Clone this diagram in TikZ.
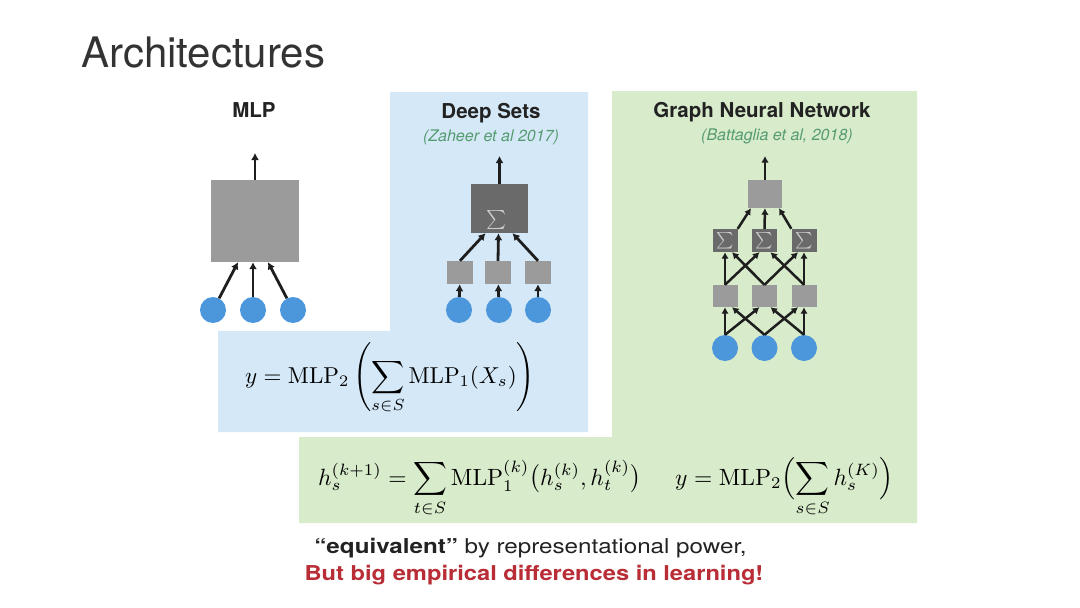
\documentclass[tikz,border=0pt]{standalone}
\usepackage{fontspec}
\usepackage{graphicx}
\usetikzlibrary{arrows.meta,calc}
\newfontfamily\hv{TeX Gyre Heros}
\definecolor{bluebg}{RGB}{212,232,247}
\definecolor{greenbg}{RGB}{216,235,203}
\definecolor{boxgray}{RGB}{155,155,155}
\definecolor{darkgray}{RGB}{106,106,106}
\definecolor{sigmagray}{RGB}{205,205,205}
\definecolor{nodeblue}{RGB}{76,150,220}
\definecolor{arrowc}{RGB}{30,30,30}
\definecolor{citegreen}{RGB}{85,155,112}
\definecolor{titlec}{RGB}{51,51,51}
\definecolor{headc}{RGB}{34,34,34}
\definecolor{redc}{RGB}{185,45,55}
\tikzset{
  graybox/.style={fill=boxgray, inner sep=0pt},
  darkbox/.style={fill=darkgray, inner sep=0pt, text=sigmagray},
  circ/.style={circle, fill=nodeblue, minimum size=26pt, inner sep=0pt},
  arr/.style={draw=arrowc, line width=2.8pt, -{Latex[length=7pt,width=8pt]}},
  garr/.style={draw=arrowc, line width=2.5pt, -{Latex[length=6.5pt,width=7.5pt]}},
  head/.style={font=\hv\bfseries\fontsize{20.5}{24}\selectfont, text=headc, inner sep=0pt, anchor=base},
  cite/.style={font=\hv\itshape\fontsize{16}{19}\selectfont, text=citegreen, inner sep=0pt, anchor=base},
}
\begin{document}
\begin{tikzpicture}[x=1pt,y=-1pt]
\useasboundingbox (0,0) rectangle (1080,608);
\fill[white] (0,0) rectangle (1080,608);
% background regions
\fill[bluebg] (390,92) -- (588,92) -- (588,432) -- (218,432) -- (218,331) -- (390,331) -- cycle;
\fill[greenbg] (612,91) -- (917,91) -- (917,523) -- (299,523) -- (299,437) -- (612,437) -- cycle;

% title
\node[font=\hv\fontsize{42}{48}\selectfont, text=titlec, anchor=base west, inner sep=0pt] (title) at (81,67) {Architectures};

% ---------- MLP ----------
\node[head] (mlptitle) at (254,117) {MLP};
\node[graybox, minimum width=88pt, minimum height=82pt] (mlp) at (255,221) {};
\coordinate (mlpout) at (255,153);
\node[circ] (c1) at (213,310) {};
\node[circ] (c2) at (253,310) {};
\node[circ] (c3) at (293,310) {};
\draw[arr] (mlp.north) -- (mlpout);
\draw[arr] (c1) -- ($(mlp.south)+(-17,0)$);
\draw[arr] (c2) -- ($(mlp.south)+(-2,0)$);
\draw[arr] (c3) -- ($(mlp.south)+(13,0)$);

% ---------- Deep Sets ----------
\node[head] (dstitle) at (491,118) {Deep Sets};
\node[cite] (dscite) at (491,141) {(Zaheer et al 2017)};
\node[darkbox, minimum width=57pt, minimum height=49pt] (ds) at (499.5,208.5) {};
\node[text=sigmagray, inner sep=0pt] (dssig) at (497,220) {\scalebox{1.9}{$\sum$}};
\coordinate (dsout) at (499.5,156);
\node[graybox, minimum width=26pt, minimum height=23pt] (d1b) at (460,272.5) {};
\node[graybox, minimum width=26pt, minimum height=23pt] (d2b) at (498,272.5) {};
\node[graybox, minimum width=26pt, minimum height=23pt] (d3b) at (538,272.5) {};
\node[circ] (d1c) at (459,310) {};
\node[circ] (d2c) at (499,310) {};
\node[circ] (d3c) at (538,310) {};
\draw[arr] (ds.north) -- (dsout);
\draw[arr] (d1c) -- (d1b);
\draw[arr] (d2c) -- (d2b);
\draw[arr] (d3c) -- (d3b);
\draw[arr] (d1b.north) -- ($(ds.south)+(-14,0)$);
\draw[arr] (d2b.north) -- ($(ds.south)+(-1,0)$);
\draw[arr] (d3b.north) -- ($(ds.south)+(13,0)$);

% ---------- GNN ----------
\node[head] (gtitle) at (762,117) {Graph Neural Network};
\node[cite] (gcite) at (777,140) {(Battaglia et al, 2018)};
\node[graybox, minimum width=34pt, minimum height=28pt] (g0) at (765,194) {};
\coordinate (gout) at (765,156);
\foreach \i/\x in {1/725,2/764.5,3/804}{
  \node[darkbox, minimum width=25pt, minimum height=23pt] (gs\i) at (\x,240.5) {\scalebox{1.65}{$\sum$}};
  \node[graybox, minimum width=25pt, minimum height=22pt] (gm\i) at (\x,296) {};
  \node[circ] (gc\i) at (\x,348) {};
}
\draw[garr] (g0.north) -- (gout);
\draw[garr] (gs1.north east) -- ($(g0.south)+(-14,0)$);
\draw[garr] (gs2.north) -- (g0.south);
\draw[garr] (gs3.north west) -- ($(g0.south)+(14,0)$);
% mid -> sigma
\draw[garr] (gm1.north) -- (gs1.south);
\draw[garr] (gm1.north) -- ($(gs2.south)+(-5,0)$);
\draw[garr] (gm2.north) -- ($(gs1.south)+(7,0)$);
\draw[garr] (gm2.north) -- ($(gs3.south)+(-6,0)$);
\draw[garr] (gm3.north) -- ($(gs2.south)+(6,0)$);
\draw[garr] (gm3.north) -- (gs3.south);
% circles -> mid
\draw[garr] (gc1.north) -- (gm1.south);
\draw[garr] (gc1.north) -- ($(gm2.south)+(-5,0)$);
\draw[garr] (gc2.north) -- ($(gm1.south)+(7,0)$);
\draw[garr] (gc2.north) -- ($(gm3.south)+(-6,0)$);
\draw[garr] (gc3.north) -- ($(gm2.south)+(6,0)$);
\draw[garr] (gc3.north) -- (gm3.south);

% ---------- formulas ----------
\node[anchor=base west, inner sep=0pt] (f1) at (245,383)
  {\scalebox{2.3}{$\displaystyle y = \mathrm{MLP}_2\left(\sum_{s\in S}\mathrm{MLP}_1(X_s)\right)$}};
\node[anchor=base west, inner sep=0pt] (f2) at (318,485)
  {\scalebox{2.35}{$\displaystyle h_s^{(k+1)} = \sum_{t\in S}\mathrm{MLP}_1^{(k)}\bigl(h_s^{(k)}, h_t^{(k)}\bigr)$}};
\node[anchor=base west, inner sep=0pt] (f3) at (675,485)
  {\scalebox{2.35}{$\displaystyle y = \mathrm{MLP}_2\Bigl(\sum_{s\in S} h_s^{(K)}\Bigr)$}};

% ---------- bottom text ----------
\node[anchor=base, inner sep=0pt, text=headc] (t1) at (530.5,553)
  {\scalebox{1.18}[1]{\hv\fontsize{20.5}{24}\selectfont\textbf{“equivalent”} by representational power,}};
\node[anchor=base, inner sep=0pt, text=redc] (t2) at (534,580)
  {\scalebox{1.155}[1]{\hv\bfseries\fontsize{20.5}{24}\selectfont But big empirical differences in learning!}};
\end{tikzpicture}
\end{document}
